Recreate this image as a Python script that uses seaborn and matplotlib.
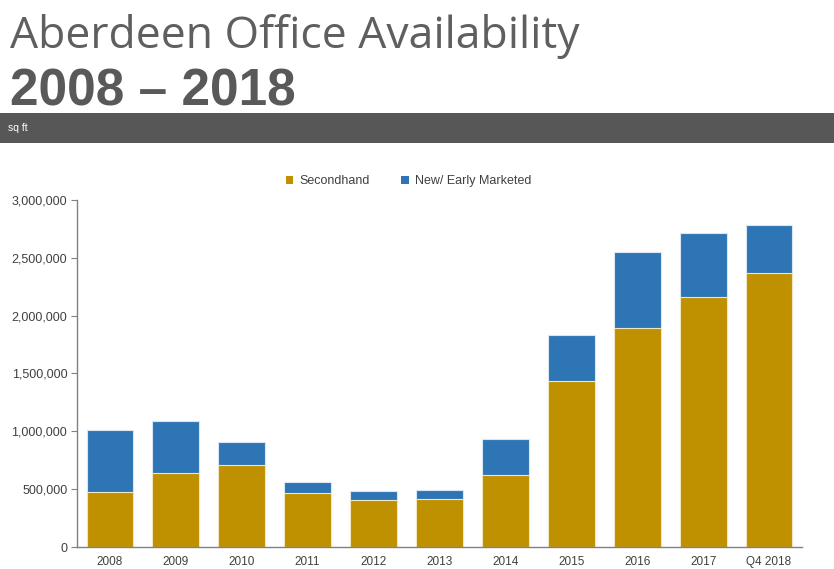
import matplotlib
matplotlib.use("Agg")
import matplotlib.pyplot as plt
import matplotlib.ticker as mticker
from matplotlib.patches import Patch, Rectangle
import pandas as pd
import seaborn as sns

sns.set_style("white")
plt.rcParams['font.family'] = ['Liberation Sans', 'DejaVu Sans']

# values (sq ft)
years = ["2008", "2009", "2010", "2011", "2012", "2013", "2014", "2015", "2016", "2017", "Q4 2018"]
secondhand = [475000, 637000, 709000, 469000, 406000, 418000, 622000, 1435000, 1895000, 2158000, 2366000]
new_early = [535000, 452000, 201000, 95000, 78000, 75000, 308000, 397000, 657000, 553000, 414000]

df = pd.DataFrame({"year": years, "Secondhand": secondhand, "New": new_early})
df["Total"] = df["Secondhand"] + df["New"]

gold = "#BF9000"
blue = "#2E75B6"
txt = "#404040"

fig = plt.figure(figsize=(8.34, 5.69), dpi=100)

# header
fig.text(0.012, 1 - 48 / 569, "Aberdeen Office Availability", family="Open Sans",
         fontsize=32, color="#5f5f5f", va="baseline")
fig.text(0.012, 1 - 105 / 569, "2008 \u2013 2018", weight="bold", fontsize=37,
         color="#595959", va="baseline")
fig.patches.append(Rectangle((0, 1 - 143 / 569), 1, 30 / 569, transform=fig.transFigure,
                             facecolor="#575757", edgecolor="none", zorder=0))
fig.text(0.01, 1 - 128 / 569, "sq ft", color="white", fontsize=7.5, va="center")

ax = fig.add_axes([77 / 834, 22 / 569, 725 / 834, 347 / 569])

# stacked bars: totals in blue, secondhand drawn over them
sns.barplot(data=df, x="year", y="Total", color=blue, width=0.71, ax=ax,
            edgecolor="#dbe6f3", linewidth=0.8, saturation=1)
sns.barplot(data=df, x="year", y="Secondhand", color=gold, width=0.71, ax=ax,
            edgecolor="#f2e6c0", linewidth=0.8, saturation=1)

ax.set_ylim(0, 3000000)
ax.set_xlim(-0.5, len(years) - 0.5)
ax.yaxis.set_major_locator(mticker.MultipleLocator(500000))
ax.yaxis.set_major_formatter(mticker.FuncFormatter(lambda v, p: f"{int(v):,}"))
ax.set_xlabel("")
ax.set_ylabel("")
for s in ["top", "right"]:
    ax.spines[s].set_visible(False)
for s in ["left", "bottom"]:
    ax.spines[s].set_color("#808080")
    ax.spines[s].set_linewidth(1)
ax.tick_params(axis="y", left=True, length=4, color="#808080", labelsize=9, labelcolor=txt, pad=3)
ax.tick_params(axis="x", bottom=False, labelsize=8.5, labelcolor=txt, pad=3)

handles = [Patch(facecolor=gold, edgecolor="none"), Patch(facecolor=blue, edgecolor="none")]
fig.legend(handles, ["Secondhand", "New/ Early Marketed"], loc="center",
           bbox_to_anchor=(0.49, 1 - 181 / 569), ncol=2, frameon=False,
           fontsize=9, labelcolor=txt, handlelength=0.6, handleheight=0.6,
           handletextpad=0.5, columnspacing=2.5)

fig.savefig("out.png", dpi=100)
